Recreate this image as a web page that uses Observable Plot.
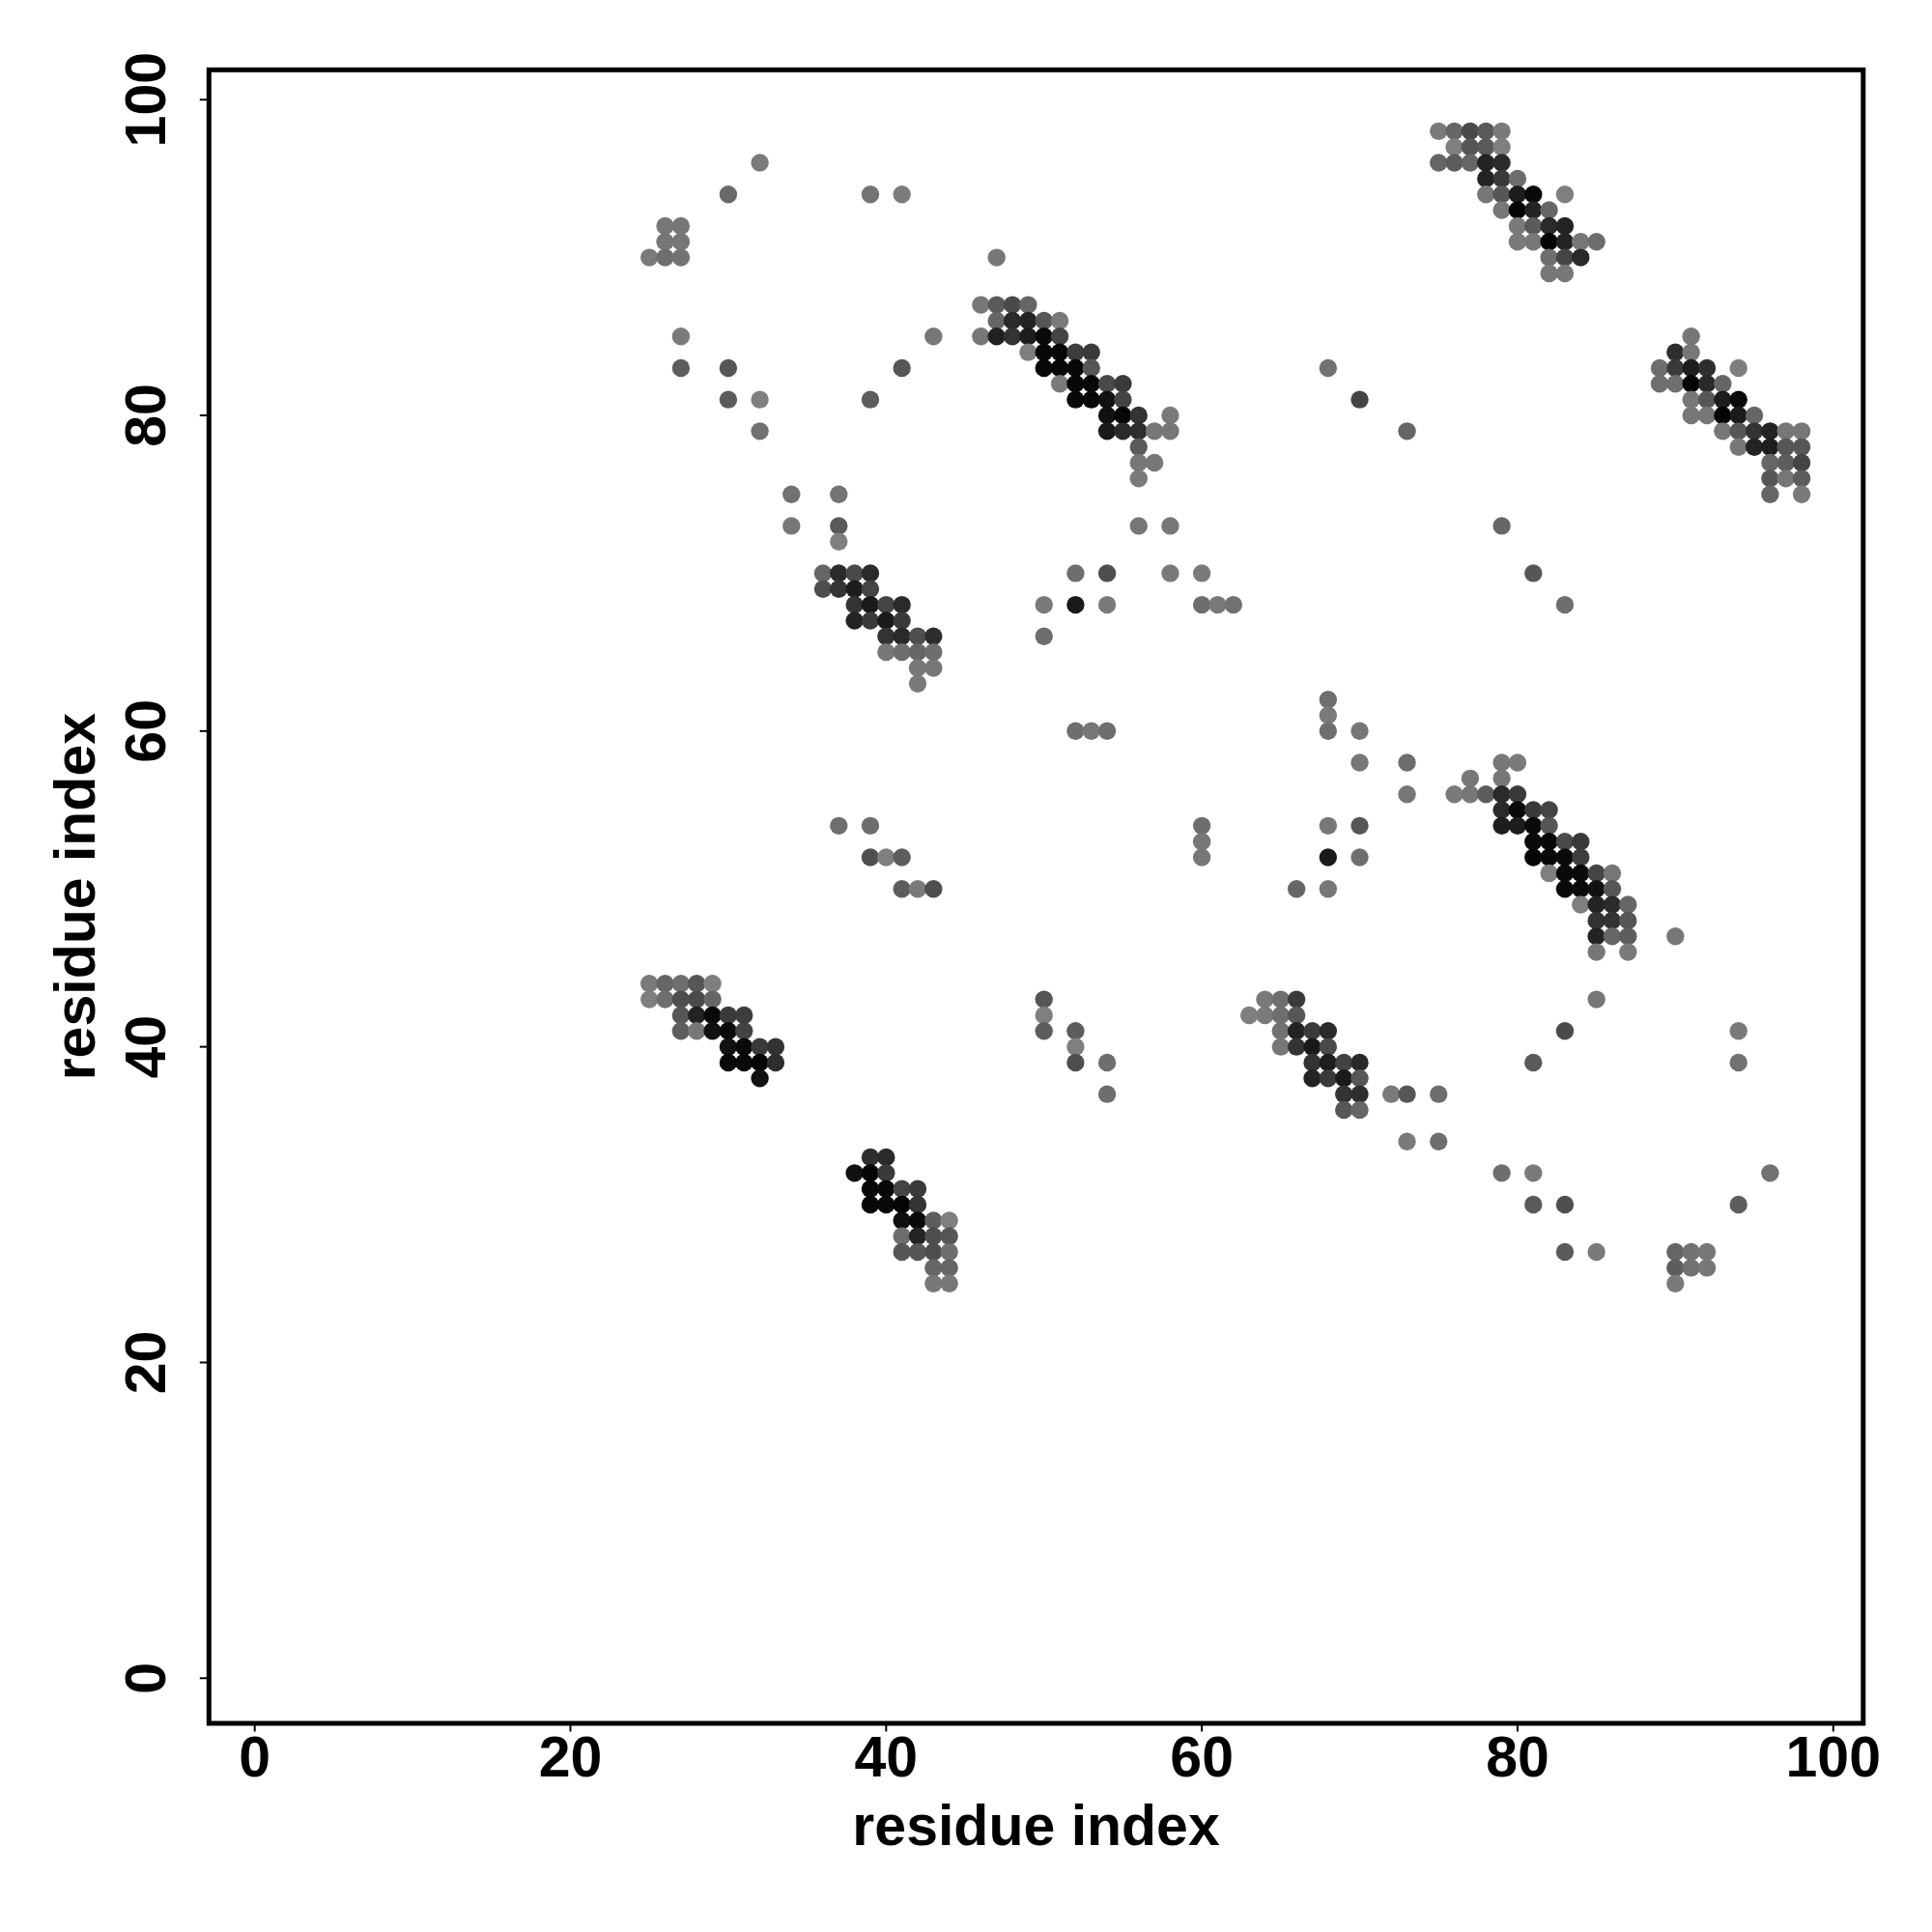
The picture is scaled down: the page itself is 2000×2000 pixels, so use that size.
<!DOCTYPE html>
<html>
<head>
<meta charset="utf-8">
<script src="https://cdn.jsdelivr.net/npm/d3@7"></script>
<script src="https://cdn.jsdelivr.net/npm/@observablehq/plot@0.6"></script>
<style>
  html, body { margin: 0; padding: 0; background: #ffffff; }
  #chart svg { display: block; }
</style>
</head>
<body>
<div id="chart"></div>
<script>
// Each contact: [residue i (x), residue j (y), score 0..1 (darker = higher)]
const sparseUpperLeft = [
  [32,96,.05],[30,94,.17],[39,94,.10],[41,94,.03],[47,90,.07],[43,85,.07],[27,85,.05],
  [27,83,.27],[30,83,.33],[41,83,.33],[30,81,.30],[32,81,.01],[39,81,.27],[32,79,.12],
  [34,75,.12],[37,75,.10],[34,73,.07],[37,73,.30],[37,72,.01]
];
const patch25to27 = [
  [26,92,.07],[27,92,.07],[26,91,.07],[27,91,.07],[25,90,.05],[26,90,.14],[27,90,.10]
];
const strand46to58 = [
  [46,87,.07],[47,87,.30],[48,87,.42],[49,87,.20],
  [47,86,.20],[48,86,.67],[49,86,.73],[50,86,.33],[51,86,.05],
  [46,85,.07],[47,85,.75],[48,85,.60],[49,85,.77],[50,85,.92],[51,85,.47],
  [49,84,.01],[50,84,.94],[51,84,.94],[52,84,.52],[53,84,.55],
  [50,83,.94],[51,83,.94],[52,83,.94],[53,83,.33],
  [51,82,.05],[52,82,.94],[53,82,.94],[54,82,.42],[55,82,.55],
  [52,81,.94],[53,81,.94],[54,81,.87],[55,81,.47],
  [54,80,.87],[55,80,.94],[56,80,.60],[58,80,.05],
  [54,79,.80],[55,79,.67],[56,79,.64],[57,79,.07],[58,79,.07],
  [56,78,.30],[56,77,.07],[57,77,.07],[56,76,.05],[56,73,.07],[58,73,.07]
];
const sparseUpperMid = [[68,83,.12],[70,81,.47],[73,79,.20],[79,73,.20],[81,70,.33],[83,68,.14]];
const strand75to85 = [
  [75,98,.05],[76,98,.20],[77,98,.42],[78,98,.30],[79,98,.05],
  [76,97,.01],[77,97,.33],[78,97,.30],[79,97,.01],
  [75,96,.20],[76,96,.27],[77,96,.20],[78,96,.73],[79,96,.67],
  [78,95,.73],[79,95,.55],[80,95,.14],
  [78,94,.07],[79,94,.33],[80,94,.77],[81,94,.92],[83,94,.01],
  [79,93,.07],[80,93,.96],[81,93,.73],[82,93,.20],
  [80,92,.05],[81,92,.30],[82,92,.67],[83,92,.73],
  [80,91,.05],[81,91,.07],[82,91,.96],[83,91,.73],[84,91,.07],[85,91,.14],
  [82,90,.14],[83,90,.47],[84,90,.67],
  [82,89,.07],[83,89,.07]
];
const strand89to98 = [
  [91,85,.07],[90,84,.64],[91,84,.07],
  [89,83,.14],[90,83,.55],[91,83,.77],[92,83,.64],[94,83,.01],
  [89,82,.14],[90,82,.14],[91,82,.96],[92,82,.67],[93,82,.20],
  [91,81,.07],[92,81,.33],[93,81,.77],[94,81,.92],
  [91,80,.07],[92,80,.07],[93,80,.96],[94,80,.80],[95,80,.20],
  [93,79,.07],[94,79,.33],[95,79,.60],[96,79,.73],[97,79,.07],[98,79,.07],
  [94,78,.07],[95,78,.73],[96,78,.77],[97,78,.33],[98,78,.33],
  [96,77,.20],[97,77,.27],[98,77,.47],
  [96,76,.33],[97,76,.07],[98,76,.27],
  [96,75,.20],[98,75,.05]
];
const strand36to43 = [
  [36,70,.20],[37,70,.67],[38,70,.42],[39,70,.67],
  [36,69,.39],[37,69,.60],[38,69,.77],[39,69,.47],
  [38,68,.60],[39,68,.80],[40,68,.47],[41,68,.67],
  [38,67,.73],[39,67,.55],[40,67,.80],[41,67,.55],
  [40,66,.60],[41,66,.67],[42,66,.39],[43,66,.64],
  [40,65,.07],[41,65,.14],[42,65,.20],[43,65,.14],
  [42,64,.07],[43,64,.07],[42,63,.05]
];
const sparseCentre = [
  [37,54,.14],[39,54,.14],[39,52,.39],[40,52,.01],[41,52,.27],[41,50,.27],[42,50,.05],[43,50,.39],
  [52,70,.14],[54,70,.39],[58,70,.05],[60,70,.05],
  [50,68,.05],[52,68,.80],[54,68,.05],[60,68,.14],[61,68,.05],[62,68,.12],[50,66,.14],
  [52,60,.14],[53,60,.07],[54,60,.14],
  [68,62,.14],[68,61,.05],[68,60,.14],[70,60,.07],[70,58,.07],[73,58,.14],[73,56,.07],
  [60,54,.14],[68,54,.07],[70,54,.33],[60,53,.07],[60,52,.07],[68,52,.80],[70,52,.14],
  [66,50,.20],[68,50,.07]
];
const strand76to87 = [
  [79,58,.07],[80,58,.05],[77,57,.07],[79,57,.07],
  [76,56,.05],[77,56,.07],[78,56,.27],[79,56,.67],[80,56,.55],
  [79,55,.67],[80,55,.92],[81,55,.55],[82,55,.47],
  [79,54,.77],[80,54,.77],[81,54,.92],[82,54,.33],
  [81,53,.92],[82,53,.94],[83,53,.42],[84,53,.55],
  [81,52,.96],[82,52,.94],[83,52,.92],[84,52,.52],
  [82,51,.01],[83,51,.92],[84,51,.92],[85,51,.47],[86,51,.07],
  [83,50,.92],[84,50,.92],[85,50,.87],[86,50,.33],
  [84,49,.01],[85,49,.73],[86,49,.67],[87,49,.20],
  [85,48,.60],[86,48,.60],[87,48,.33],
  [85,47,.73],[86,47,.20],[87,47,.27],[90,47,.07],
  [85,46,.07],[87,46,.05]
];
const strand25to33 = [
  [25,44,.05],[26,44,.20],[27,44,.14],[28,44,.33],[29,44,.01],
  [25,43,.01],[26,43,.14],[27,43,.39],[28,43,.42],[29,43,.20],
  [27,42,.33],[28,42,.73],[29,42,.94],[30,42,.55],[31,42,.52],
  [27,41,.27],[28,41,.07],[29,41,.87],[30,41,.92],[31,41,.47],
  [30,40,.87],[31,40,.92],[32,40,.55],[33,40,.60],
  [30,39,.94],[31,39,.92],[32,39,.96],[33,39,.64],
  [32,38,.87]
];
const strand38to44 = [
  [39,33,.64],[40,33,.67],
  [38,32,.87],[39,32,.96],[40,32,.55],
  [39,31,.94],[40,31,.94],[41,31,.47],[42,31,.55],
  [39,30,.94],[40,30,.92],[41,30,.96],[42,30,.60],
  [41,29,.89],[42,29,.92],[43,29,.27],[44,29,.01],
  [41,28,.14],[42,28,.73],[43,28,.39],[44,28,.33],
  [41,27,.33],[42,27,.33],[43,27,.39],[44,27,.14],
  [43,26,.20],[44,26,.20],[43,25,.07],[44,25,.07]
];
const strand63to70 = [
  [64,43,.05],[65,43,.14],[66,43,.55],
  [63,42,.01],[64,42,.05],[65,42,.14],[66,42,.33],
  [65,41,.12],[66,41,.73],[67,41,.55],[68,41,.67],
  [65,40,.07],[66,40,.60],[67,40,.80],[68,40,.42],
  [67,39,.60],[68,39,.77],[69,39,.47],[70,39,.67],
  [67,38,.73],[68,38,.55],[69,38,.80],[70,38,.33],
  [69,37,.60],[70,37,.64],[69,36,.33],[70,36,.20]
];
const sparseLower = [
  [50,43,.33],[50,42,.01],[50,41,.27],[52,41,.27],[52,40,.01],[52,39,.39],[54,39,.14],[54,37,.14],
  [72,37,.05],[73,37,.33],[75,37,.14],[73,34,.05],[75,34,.14],
  [85,43,.07],[83,41,.42],[94,41,.05],[81,39,.30],[94,39,.12],
  [79,32,.14],[81,32,.05],[96,32,.12],[81,30,.30],[83,30,.39],[94,30,.27],[83,27,.30],[85,27,.05]
];
const patch90to92 = [
  [90,27,.20],[91,27,.12],[92,27,.07],[90,26,.27],[91,26,.12],[92,26,.07],[90,25,.05]
];

const tickValues = [0, 20, 40, 60, 80, 100];
const axisLabel = "residue index";

const contacts = [
  ...sparseUpperLeft, ...patch25to27, ...strand46to58, ...sparseUpperMid, ...strand75to85,
  ...strand89to98, ...strand36to43, ...sparseCentre, ...strand76to87, ...strand25to33,
  ...strand38to44, ...strand63to70, ...sparseLower, ...patch90to92
].map(([i, j, s]) => ({i, j, s}));

const font = {fontFamily: "Liberation Sans, Arial, sans-serif", fontWeight: "bold", fontSize: 59};

const chart = Plot.plot({
  width: 2000,
  height: 1960,
  marginLeft: 215.8,
  marginRight: 71.7,
  marginTop: 71.8,
  marginBottom: 176.5,
  x: {domain: [-2.9, 101.9]},
  y: {domain: [-2.86, 101.89]},
  color: {type: "linear", domain: [0, 1], range: ["#808080", "#000000"]},
  marks: [
    Plot.dot(contacts, {x: "i", y: "j", r: 9.2, fill: "s"}),
    Plot.frame({stroke: "black", strokeWidth: 5}),
    Plot.axisX({
      ticks: tickValues, tickSize: 9, strokeWidth: 2, tickPadding: 4.5,
      label: axisLabel, labelAnchor: "center", labelArrow: "none", labelOffset: 126,
      ...font
    }),
    Plot.axisY({
      ticks: tickValues, tickSize: 9, strokeWidth: 2, tickRotate: -90, tickPadding: 36,
      label: axisLabel, labelAnchor: "center", labelArrow: "none", labelOffset: 160,
      ...font
    })
  ]
});
document.getElementById("chart").appendChild(chart);
</script>
</body>
</html>
